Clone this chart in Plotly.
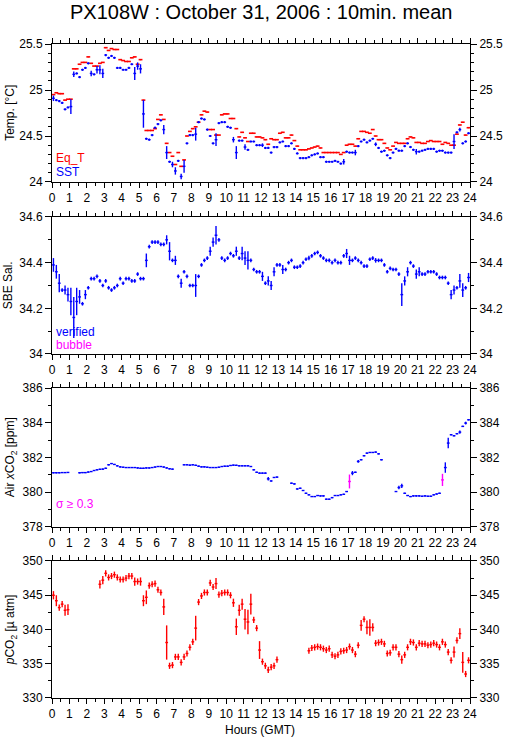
import plotly.graph_objects as go

# ---------------- data (10-min means, 144 slots per day) ----------------
eq_t = [
    24.95, 24.97, 24.96, 24.96, 24.89, 24.90,
    24.90, 25.23, 25.23, 25.28, 25.30, 25.30,
    25.36, 25.29, 25.26, 25.26, 25.29, 25.30,
    25.46, 25.43, 25.45, 25.44, 25.44, 25.33,
    25.32, 25.31, 25.31, 25.35, 25.36, 25.28,
    25.33, 24.89, 24.56, 24.56, 24.56, 24.58,
    24.68, 24.73, 24.68, 24.42, 24.32, 24.28,
    24.19, 24.32, 24.17, 24.24, 24.50, 24.55,
    24.58, 24.60, 24.65, 24.73, 24.77, 24.76,
    24.57, 24.57, 24.51, 24.51, 24.73, 24.74,
    24.74, 24.69, 24.69, 24.58, 24.49, 24.54,
    24.48, 24.44, 24.53, 24.53, 24.49, 24.49,
    24.48, 24.46, 24.41, 24.47, 24.46, 24.46,
    24.53, 24.54, 24.48, 24.48, 24.51, 24.45,
    24.39, 24.35, 24.35, 24.35, 24.36, 24.37,
    24.38, 24.39, 24.37, 24.32, 24.32, 24.32,
    24.32, 24.32, 24.32, 24.30, 24.32, 24.40,
    24.41, 24.41, 24.39, 24.47, 24.55, 24.55,
    24.54, 24.53, 24.57, 24.50, 24.46, 24.46,
    24.42, 24.37, 24.35, 24.39, 24.43, 24.42,
    24.42, 24.42, 24.47, 24.49, 24.48, 24.43,
    24.43, 24.42, 24.42, 24.44, 24.45, 24.44,
    24.44, 24.44, 24.41, 24.43, 24.42, 24.40,
    24.40, 24.52, 24.62, 24.65, 24.51, 24.59,
]

sst = [
    24.91, 24.89, 24.88, 24.86, 24.79, 24.81,
    24.82, 25.17, 25.18, 25.14, 25.22, 25.24,
    25.29, 25.18, 25.17, 25.22, 25.22, 25.18,
    25.38, 25.35, 25.37, 25.35, 25.24, 25.24,
    25.22, 25.22, 25.24, 25.28, 25.18, 25.26,
    25.23, 24.74, 24.47, 24.46, 24.51, 24.59,
    24.63, 24.67, 24.57, 24.32, 24.22, 24.19,
    24.12, 24.23, 24.06, 24.17, 24.42, 24.51,
    24.51, 24.52, 24.65, 24.69, 24.68, 24.57,
    24.50, 24.42, 24.46, 24.64, 24.65, 24.65,
    24.60, 24.59, 24.46, 24.32, 24.45, 24.45,
    24.38, 24.35, 24.44, 24.44, 24.40, 24.40,
    24.40, 24.37, 24.37, 24.32, 24.38, 24.38,
    24.43, 24.44, 24.39, 24.39, 24.42, 24.36,
    24.31, 24.26, 24.26, 24.26, 24.27, 24.29,
    24.30, 24.31, 24.27, 24.27, 24.22, 24.22,
    24.22, 24.23, 24.22, 24.20, 24.22, 24.33,
    24.32, 24.32, 24.32, 24.39, 24.44, 24.46,
    24.43, 24.45, 24.47, 24.41, 24.37, 24.33,
    24.34, 24.29, 24.26, 24.32, 24.36, 24.34,
    24.34, 24.39, 24.42, 24.38, 24.35, 24.33,
    24.33, 24.34, 24.35, 24.36, 24.36, 24.36,
    24.33, 24.34, 24.34, 24.32, 24.32, 24.32,
    24.44, 24.54, 24.57, 24.42, 24.44, 24.53,
]
sst_err_default = 0.012
sst_err_big = [(0.08, 0.03), (1.08, 0.08), (1.25, 0.03), (2.25, 0.03), (2.58, 0.04),
               (2.75, 0.05), (2.92, 0.05), (4.75, 0.07), (4.92, 0.04), (5.08, 0.05),
               (5.25, 0.15), (6.42, 0.05), (6.58, 0.07), (6.92, 0.03), (7.08, 0.04),
               (7.42, 0.03), (7.58, 0.07), (8.25, 0.07), (9.42, 0.07), (10.42, 0.03),
               (10.58, 0.07), (11.08, 0.03), (12.08, 0.02), (16.75, 0.03), (17.42, 0.03),
               (18.58, 0.02), (20.92, 0.03), (23.08, 0.08), (23.42, 0.02)]

sal = [
    34.39, 34.36, 34.31, 34.28, 34.28, 34.26,
    34.23, 34.16, 34.23, 34.25, 34.22, 34.26,
    34.29, 34.33, 34.33, 34.34, 34.32, 34.30,
    34.32, 34.29, 34.28, 34.29, 34.30, 34.33,
    34.31, 34.33, 34.33, 34.32, 34.32, 34.35,
    34.33, 34.33, 34.41, 34.47, 34.49, 34.49,
    34.49, 34.48, 34.48, 34.50, 34.45, 34.41,
    34.41, 34.34, 34.31, 34.36, 34.34, 34.30,
    34.30, 34.30, 34.34, 34.39, 34.41, 34.42,
    34.45, 34.49, 34.52, 34.50, 34.42, 34.41,
    34.42, 34.44, 34.43, 34.45, 34.42, 34.44,
    34.42, 34.41, 34.41, 34.37, 34.36, 34.36,
    34.34, 34.31, 34.32, 34.30, 34.36, 34.39,
    34.39, 34.37, 34.37, 34.40, 34.41, 34.38,
    34.38, 34.385, 34.40, 34.415, 34.42, 34.43,
    34.44, 34.445, 34.43, 34.42, 34.41, 34.41,
    34.40, 34.41, 34.40, 34.40, 34.43, 34.44,
    34.41, 34.41, 34.42, 34.41, 34.40, 34.385,
    34.385, 34.415, 34.42, 34.41, 34.41, 34.41,
    34.39, 34.36, 34.375, 34.37, 34.37, 34.35,
    34.26, 34.32, 34.36, 34.40, 34.385, 34.35,
    34.36, 34.35, 34.35, 34.36, 34.36, 34.36,
    34.35, 34.335, 34.335, 34.335, 34.31, 34.26,
    34.28, 34.29, 34.32, 34.28, 34.29, 34.335,
]
sal_err_default = 0.008
sal_err_big = [(0.08, 0.03), (0.25, 0.03), (0.42, 0.04), (0.75, 0.02), (0.92, 0.03),
               (1.08, 0.06), (1.25, 0.09), (1.42, 0.06), (1.58, 0.03), (1.92, 0.02),
               (5.42, 0.03), (6.58, 0.02), (6.75, 0.04), (7.08, 0.02), (7.42, 0.02),
               (8.25, 0.05), (9.08, 0.02), (9.25, 0.02), (9.42, 0.04), (10.58, 0.02),
               (10.92, 0.03), (11.08, 0.03), (11.25, 0.04), (12.08, 0.02), (12.42, 0.02),
               (12.58, 0.02), (12.75, 0.02), (13.25, 0.02), (14.75, 0.01), (16.92, 0.02),
               (17.08, 0.02), (18.58, 0.01), (20.08, 0.05), (20.25, 0.02), (20.42, 0.02),
               (20.92, 0.02), (21.08, 0.02), (22.92, 0.02), (23.08, 0.02), (23.42, 0.03),
               (23.58, 0.03), (23.92, 0.02)]

xco2 = [
    381.12, 381.12, 381.12, 381.13, 381.13, 381.14,
    None, None, None, 381.12, 381.13, 381.13,
    381.16, 381.19, 381.25, 381.29, 381.32, 381.33,
    381.38, 381.58, 381.65, 381.60, 381.52, 381.46,
    381.44, 381.42, 381.42, 381.42, 381.42, 381.40,
    381.38, 381.38, 381.40, 381.40, 381.42, 381.45,
    381.48, 381.48, 381.45, 381.40, 381.35, 381.33,
    None, None, None, 381.58, 381.58, 381.56,
    381.58, 381.55, 381.50, 381.46, 381.46, 381.44,
    381.42, 381.42, 381.42, 381.44, 381.48, 381.50,
    381.50, 381.54, 381.56, 381.55, 381.52, 381.52,
    381.52, 381.52, 381.48, 381.29, 381.15, 381.10,
    381.10, 381.10, 380.77, 380.65, 380.85, 380.87,
    None, None, None, None, 380.52, 380.48,
    380.19, 380.23, 380.10, 379.94, 379.85, 379.75,
    379.75, 379.81, 379.79, 379.79, 379.60, 379.60,
    379.69, 379.81, 379.81, 379.85, 379.88, 380.04,
    None, 381.10, 381.15, 381.77, 381.87, 382.10,
    382.25, 382.29, 382.29, 382.31, 382.21, 381.87,
    None, None, None, None, 380.04, 380.27,
    380.37, 379.94, 379.81, 379.75, 379.79, 379.79,
    379.79, 379.77, 379.79, 379.77, 379.77, 379.85,
    379.90, 379.94, None, 381.42, 382.83, 383.31,
    383.25, 383.37, 383.46, 383.79, 383.98, 384.17,
]
xco2_flag_times = [17.08, 22.42]     # sigma >= 0.3 (magenta)
xco2_flag_vals = [380.62, 380.71]
xco2_flag_err = [0.40, 0.35]
xco2_err_default = 0.03
xco2_err_big = [(12.42, 0.1), (17.25, 0.12), (17.58, 0.08), (19.92, 0.1), (20.08, 0.12),
                (22.58, 0.3), (22.75, 0.3), (23.42, 0.1), (23.75, 0.08)]

pco2 = [
    345.0, 344.2, 343.2, 343.7, 342.8, 342.9,
    None, None, None, None, None, None,
    None, None, None, None, 346.6, 347.2,
    348.2, 347.6, 347.8, 348.0, 347.6, 347.3,
    347.3, 347.5, 347.8, 347.8, 347.0, 347.0,
    347.0, 344.2, 344.7, 346.4, 346.6, 346.7,
    345.8, 345.4, 343.3, 338.1, 334.7, 334.8,
    336.0, 336.0, 335.2, 336.0, 336.5, 337.4,
    338.2, 340.2, 344.0, 344.9, 345.4, 345.4,
    346.8, 346.2, 346.7, 345.1, 345.3, 345.4,
    345.4, 345.0, 343.9, 340.4, 342.8, 343.7,
    341.5, 341.1, 343.7, 341.4, 340.2, 337.0,
    335.3, 334.7, 334.1, 334.5, 334.7, 335.6,
    None, None, None, None, None, None,
    None, None, None, None, 336.9, 337.3,
    337.4, 337.5, 337.4, 337.2, 337.0, 337.2,
    336.3, 336.1, 336.3, 336.8, 336.9, 337.0,
    337.5, 337.0, 336.4, 337.7, 340.6, 341.5,
    340.3, 340.3, 340.3, 338.0, 338.1, 338.2,
    337.9, 336.5, 336.6, 337.4, 337.4, 336.4,
    335.6, 336.3, 337.4, 338.2, 338.1, 337.4,
    338.0, 337.9, 337.9, 337.7, 337.8, 338.0,
    337.8, 337.4, 338.2, 337.8, 336.7, 335.5,
    336.7, 338.4, 339.4, 335.2, 333.5, 335.5,
]
pco2_err_default = 0.45
pco2_err_big = [(0.08, 0.6), (0.25, 0.8), (0.75, 0.8), (0.92, 0.8), (2.75, 0.6), (2.92, 0.6),
                (4.75, 0.6), (5.08, 0.6), (5.25, 0.8), (5.42, 1.0), (6.42, 1.2), (6.58, 2.5),
                (8.25, 1.8), (9.42, 0.8), (10.42, 0.6), (10.58, 1.2), (10.75, 0.8),
                (10.92, 0.8), (11.08, 1.5), (11.25, 1.8), (11.42, 1.5), (11.92, 1.3),
                (17.75, 0.8), (18.08, 1.0), (18.25, 1.2), (18.42, 0.6), (20.08, 0.6),
                (23.08, 0.8), (23.42, 0.8), (23.58, 1.5)]

hour_ticks = list(range(0, 25))

# ---------------- helpers ----------------
N = len(sst)
times = [(k + 0.5) / 6 for k in range(N)]


def err_list(default, big, vals):
    e = [default if v is not None else None for v in vals]
    for t, v in big:
        e[int(t * 6)] = v
    return e


BLUE = "#0000ff"
RED = "#ff0000"
MAG = "#ff00ff"
FONT = "Liberation Sans, Arial, Helvetica, sans-serif"

fig = go.Figure()


def cross_trace(x, y, ey, color, xa, ya, half=0.08, thick=1.4):
    return go.Scatter(
        x=x, y=y, mode="markers", xaxis=xa, yaxis=ya,
        marker=dict(size=1, color=color),
        error_x=dict(type="constant", value=half, width=0, thickness=thick, color=color),
        error_y=dict(type="data", array=ey, visible=ey is not None, width=0,
                     thickness=thick, color=color),
        showlegend=False, hoverinfo="skip",
    )


# panel 1
fig.add_trace(go.Scatter(
    x=times, y=eq_t, mode="markers", xaxis="x", yaxis="y",
    marker=dict(size=1, color=RED),
    error_x=dict(type="constant", value=0.11, width=0, thickness=1.6, color=RED),
    showlegend=False, hoverinfo="skip"))
fig.add_trace(cross_trace(times, sst, err_list(sst_err_default, sst_err_big, sst), BLUE, "x", "y"))
# panel 2
fig.add_trace(cross_trace(times, sal, err_list(sal_err_default, sal_err_big, sal), BLUE, "x2", "y2"))
# panel 3
fig.add_trace(cross_trace(times, xco2, err_list(xco2_err_default, xco2_err_big, xco2), BLUE, "x3", "y3"))
fig.add_trace(cross_trace(xco2_flag_times, xco2_flag_vals, xco2_flag_err, MAG, "x3", "y3"))
# panel 4
fig.add_trace(cross_trace(times, pco2, err_list(pco2_err_default, pco2_err_big, pco2), RED, "x4", "y4"))

doms = [(0.789, 1.0), (0.526, 0.7355), (0.2615, 0.474), (0.0, 0.2095)]
yranges = [(24, 25.5), (34, 34.6), (378, 386), (330, 350)]
ydt = [0.5, 0.2, 2, 5]
ymin = [0.1, 0.1, 1, 2.5]

axfont = dict(family=FONT, size=12, color="black")
layout = dict(
    width=515, height=739,
    margin=dict(l=52, r=37, t=44, b=41),
    paper_bgcolor="white", plot_bgcolor="white",
    font=dict(family=FONT, size=12, color="black"),
    showlegend=False,
)

for i in range(4):
    n = "" if i == 0 else str(i + 1)
    layout["xaxis" + n] = dict(
        domain=[0, 1], anchor="y" + n, range=[0, 24],
        tickmode="array", tickvals=hour_ticks, ticktext=[str(h) for h in hour_ticks],
        ticks="outside", ticklen=5, tickwidth=1, tickcolor="black",
        minor=dict(dtick=0.5, tick0=0, ticks="outside", ticklen=3, tickwidth=1, tickcolor="black"),
        showline=True, linecolor="black", linewidth=1, mirror="ticks",
        showgrid=False, zeroline=False, tickfont=axfont, fixedrange=True,
    )
    common_y = dict(
        range=list(yranges[i]), tick0=yranges[i][0], dtick=ydt[i],
        ticks="outside", ticklen=6, tickwidth=1, tickcolor="black",
        minor=dict(dtick=ymin[i], tick0=yranges[i][0], ticks="outside", ticklen=3,
                   tickwidth=1, tickcolor="black"),
        showline=True, linecolor="black", linewidth=1,
        showgrid=False, zeroline=False, tickfont=axfont, fixedrange=True,
    )
    layout["yaxis" + n] = dict(domain=list(doms[i]), anchor="x" + n, side="left", **common_y)
    layout["yaxis" + str(i + 5)] = dict(overlaying="y" + n, anchor="x" + n, side="right",
                                        **common_y)
    # invisible point so the right-hand axis is drawn
    fig.add_trace(go.Scatter(x=[0], y=[yranges[i][0]], xaxis="x" + n, yaxis="y" + str(i + 5),
                             mode="markers", marker=dict(size=1, opacity=0),
                             showlegend=False, hoverinfo="skip"))

fig.update_layout(**layout)


# pixel positions below: plot area spans x 52..478, y 44..698
def ypaper(px):
    return (698 - px) / 654.0


def xpaper(px):
    return (px - 52) / 426.0


ann = []
ann.append(dict(text="PX108W : October 31, 2006 : 10min. mean", x=0.5, y=ypaper(12),
                xref="paper", yref="paper", showarrow=False,
                font=dict(family=FONT, size=20, color="black"), xanchor="center", yanchor="middle"))
ytitles = ["Temp. [°C]", "SBE Sal.", "Air <i>x</i>CO<sub>2</sub> [ppm]",
           "<i>p</i>CO<sub>2</sub> [µ atm]"]
ytx = [9, 8, 11, 11]
for i in range(4):
    ann.append(dict(text=ytitles[i], x=xpaper(ytx[i]), y=(doms[i][0] + doms[i][1]) / 2,
                    xref="paper", yref="paper", showarrow=False, textangle=-90,
                    font=dict(family=FONT, size=12, color="black"),
                    xanchor="center", yanchor="middle"))
legend_items = [("Eq_T", RED, 158), ("SST", BLUE, 172), ("verified", BLUE, 332),
                ("bubble", MAG, 345), ("σ ≥ 0.3", MAG, 504)]
for txt, col, py in legend_items:
    ann.append(dict(text=txt, x=xpaper(54), y=ypaper(py), xref="paper", yref="paper",
                    showarrow=False, font=dict(family=FONT, size=12, color=col),
                    xanchor="left", yanchor="middle"))
ann.append(dict(text="Hours (GMT)", x=xpaper(264), y=ypaper(730), xref="paper", yref="paper",
                showarrow=False, borderpad=0, font=dict(family=FONT, size=12, color="black"),
                xanchor="center", yanchor="middle"))
fig.update_layout(annotations=ann)

# remove the default 8px page margin so the figure sits at the window's top-left corner
fig.write_html("out.html", config={"displayModeBar": False, "staticPlot": True},
               post_script="document.body.style.margin='0px';")
